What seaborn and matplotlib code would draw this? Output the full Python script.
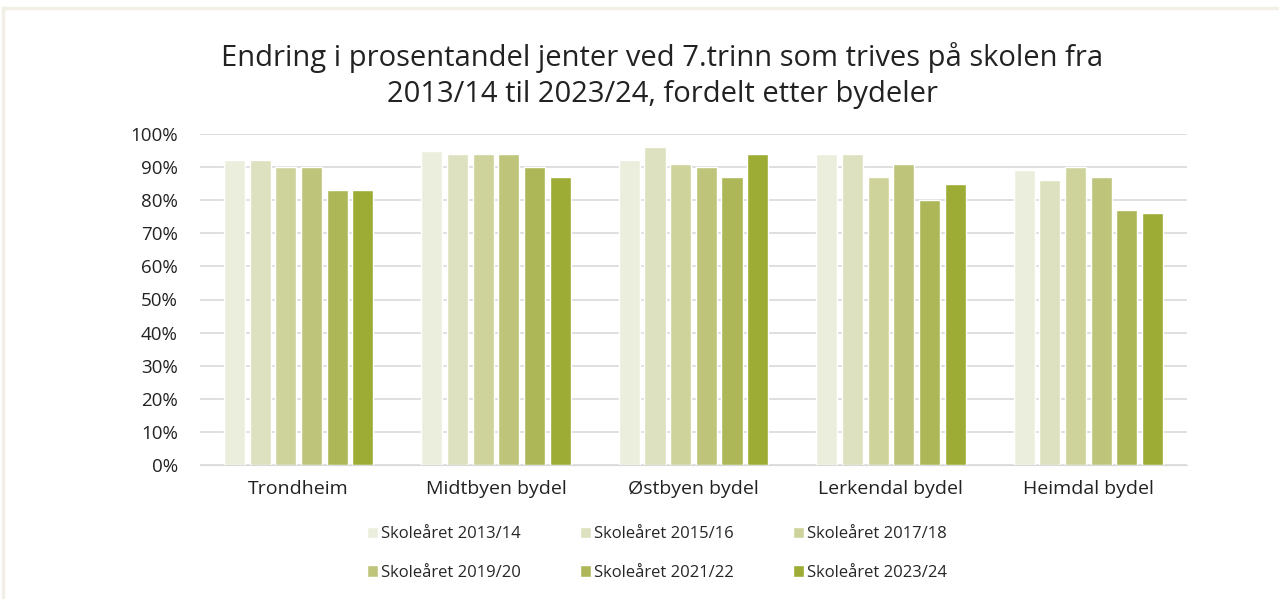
import pandas as pd
import matplotlib.pyplot as plt
import seaborn as sns
from matplotlib.patches import Rectangle
from matplotlib.ticker import PercentFormatter

# Data
bydeler = ['Trondheim', 'Midtbyen bydel', 'Østbyen bydel', 'Lerkendal bydel', 'Heimdal bydel']
skoleaar = ['Skoleåret 2013/14', 'Skoleåret 2015/16', 'Skoleåret 2017/18',
            'Skoleåret 2019/20', 'Skoleåret 2021/22', 'Skoleåret 2023/24']
v_2013 = [92, 95, 92, 94, 89]
v_2015 = [92, 94, 96, 94, 86]
v_2017 = [90, 94, 91, 87, 90]
v_2019 = [90, 94, 90, 91, 87]
v_2021 = [83, 90, 87, 80, 77]
v_2023 = [83, 87, 94, 85, 76]
farger = ['#EBEEDD', '#DDE1BF', '#CED39B', '#BEC57A', '#AEB758', '#9DAC35']

rows = []
for aar, verdier in zip(skoleaar, [v_2013, v_2015, v_2017, v_2019, v_2021, v_2023]):
    for b, v in zip(bydeler, verdier):
        rows.append({'bydel': b, 'aar': aar, 'andel': v})
df = pd.DataFrame(rows)

sns.set_style('white')
plt.rcParams['font.family'] = ['Open Sans', 'DejaVu Sans']

fig = plt.figure(figsize=(12.79, 5.99), dpi=100)
ax = fig.add_axes([200 / 1279, 1 - 465 / 599, 987 / 1279, 331 / 599])

sns.barplot(data=df, x='bydel', y='andel', hue='aar', hue_order=skoleaar,
            order=bydeler, palette=farger, saturation=1, width=0.78, gap=0.18,
            ax=ax, legend=True)

ax.set_ylim(0, 100)
ax.set_xlim(-0.5, 4.5)
ax.set_yticks(range(0, 101, 10))
ax.yaxis.set_major_formatter(PercentFormatter(decimals=0))
ax.grid(axis='y', color='#D9D9D9', linewidth=1.2)
ax.set_axisbelow(True)
for s in ['top', 'right', 'left']:
    ax.spines[s].set_visible(False)
ax.spines['bottom'].set_color('#D9D9D9')
ax.tick_params(axis='y', length=0, labelsize=13.5, colors='#222222', pad=16)
ax.tick_params(axis='x', length=0, labelsize=14, colors='#222222', pad=11)
ax.set_xlabel('')
ax.set_ylabel('')

fig.text(0.518, 0.818, 'Endring i prosentandel jenter ved 7.trinn som trives på skolen fra\n2013/14 til 2023/24, fordelt etter bydeler',
         ha='center', va='bottom', fontsize=21, color='#222222', linespacing=1.3)

handles, labels = ax.get_legend_handles_labels()
rekkef = [0, 3, 1, 4, 2, 5]  # fill the legend row by row
ax.legend([handles[i] for i in rekkef], [labels[i] for i in rekkef],
          loc='upper center', bbox_to_anchor=(0.463, -0.14), ncol=3,
          frameon=False, fontsize=12, handlelength=0.65, handleheight=0.65,
          handletextpad=0.15, columnspacing=3.6, labelspacing=1.35)

# light frame around the chart
fig.patches.append(Rectangle((3 / 1279, -0.01), 1.2, 1 - 8 / 599 + 0.01,
                             transform=fig.transFigure, fill=False,
                             edgecolor='#F2F0E6', linewidth=2.5))

fig.savefig('out.png', dpi=100)
